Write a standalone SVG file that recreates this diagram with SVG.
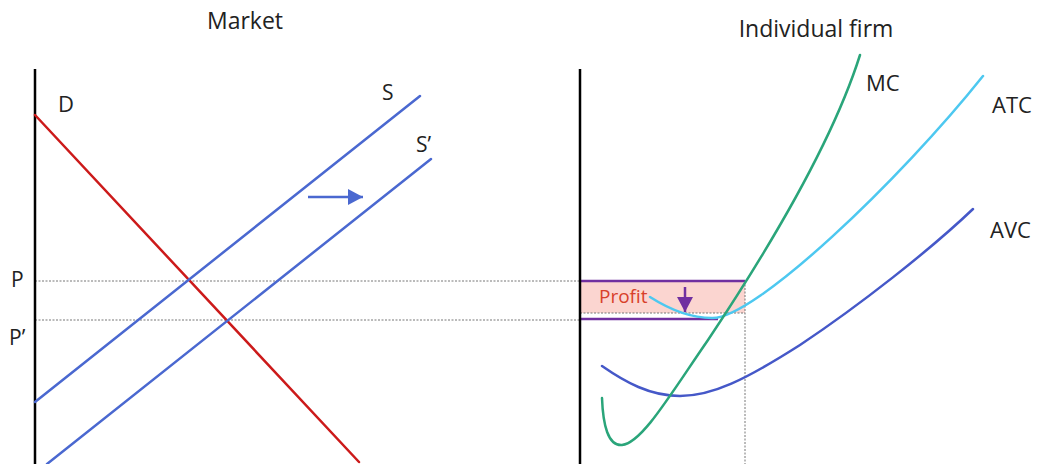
<svg xmlns="http://www.w3.org/2000/svg" width="1037" height="464" viewBox="0 0 1037 464">
<style>
text{font-family:"Open Sans","Noto Sans","Liberation Sans",sans-serif;font-size:22px;fill:#222}
.t{font-size:23px}
.ax{stroke:#000;stroke-width:2.5;fill:none}
.dot{stroke:#777;stroke-width:1;stroke-dasharray:2,1.5;fill:none}
.c{fill:none;stroke-width:2.5;stroke-linecap:round}
</style>
<defs>
<marker id="ah" viewBox="0 0 15 16" refX="15" refY="8" markerWidth="6" markerHeight="6.4" orient="auto" markerUnits="strokeWidth"><path d="M0,0 L15,8 L0,16 z" fill="#4a68d0"/></marker>
<marker id="ahp" viewBox="0 0 15 16" refX="15" refY="8" markerWidth="6" markerHeight="6.4" orient="auto" markerUnits="strokeWidth"><path d="M0,0 L15,8 L0,16 z" fill="#7030a0"/></marker>
</defs>
<text class="t" x="245" y="29" text-anchor="middle">Market</text>
<text class="t" x="816" y="37" text-anchor="middle">Individual firm</text>
<g id="profit">
<rect x="580" y="281" width="165" height="32" fill="#fbd5d0"/>
<text x="599" y="303" style="font-size:19px;fill:#d8402a">Profit</text>
</g>
<g id="connectors">
<line class="dot" x1="35" y1="281" x2="580" y2="281"/>
<line class="dot" x1="35" y1="320" x2="580" y2="320"/>
<line class="dot" x1="580" y1="313" x2="745" y2="313"/>
<line class="dot" x1="745" y1="281" x2="745" y2="464"/>
<line x1="580" y1="281" x2="745" y2="281" stroke="#7030a0" stroke-width="2.5"/>
<line x1="580" y1="319" x2="718" y2="319" stroke="#7030a0" stroke-width="2.5"/>
<line x1="685" y1="287" x2="685" y2="312" stroke="#7030a0" stroke-width="2.5" marker-end="url(#ahp)"/>
<line x1="308" y1="197" x2="363" y2="197" stroke="#4a68d0" stroke-width="2.5" marker-end="url(#ah)"/>
</g>
<g id="axes">
<line class="ax" x1="35" y1="69" x2="35" y2="464"/>
<line class="ax" x1="580" y1="69" x2="580" y2="464"/>
</g>
<g id="D"><line class="c" x1="35" y1="115" x2="359" y2="462" stroke="#cc1a1a"/><text x="58" y="112">D</text></g>
<g id="S"><line class="c" x1="35" y1="402" x2="420" y2="96" stroke="#4a68d0"/><text x="382" y="100" style="font-size:21px">S</text></g>
<g id="S2"><line class="c" x1="47" y1="464" x2="431" y2="159" stroke="#4a68d0"/><text x="416" y="152" style="font-size:21px">S’</text></g>
<g id="P"><text x="11" y="287" style="font-size:21px">P</text></g>
<g id="P2"><text x="9" y="345" style="font-size:21px">P’</text></g>
<g id="ATC"><path class="c" d="M650,297 C672,311 692,318 712,318 C755,319 900,180 983,76" stroke="#4dc8f0"/><text x="992" y="113">ATC</text></g>
<g id="AVC"><path class="c" d="M602,366 C625,382 650,396 680,396 C712,396 745,380 800,345 C860,305 930,250 973,209" stroke="#4558c8"/><text x="990" y="238">AVC</text></g>
<g id="MC"><path class="c" d="M602,398 C603,425 608,446 622,445 C642,443 670,395 708,340 C760,262 830,150 860,55" stroke="#2aa57a"/><text x="866" y="91">MC</text></g>
</svg>
